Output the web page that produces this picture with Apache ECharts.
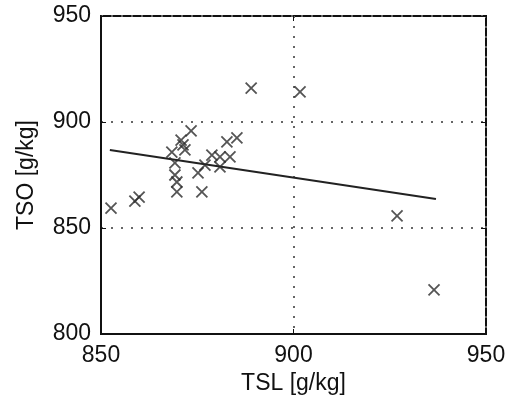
<!DOCTYPE html>
<html>
<head>
<meta charset="utf-8">
<script src="https://cdn.jsdelivr.net/npm/echarts@6/dist/echarts.min.js"></script>
<style>html,body{margin:0;padding:0;background:#fff;}#c{width:509px;height:406px;}</style>
</head>
<body>
<div id="c"></div>
<script>
// TSL [g/kg] values
var tsl = [852.6, 858.8, 859.9, 889.0, 901.7, 926.9, 936.5,
           873.4, 870.8, 871.8, 871.3, 868.4, 869.2, 869.2, 869.7, 869.7,
           875.2, 876.2, 878.8, 880.9, 883.5, 882.7, 885.3, 877.0, 880.9];
// TSO [g/kg] values
var tso = [859.4, 862.7, 864.6, 916.0, 914.2, 855.7, 820.8,
           895.8, 891.5, 886.8, 889.2, 885.8, 880.7, 875.0, 871.7, 867.0,
           876.0, 867.0, 884.4, 883.5, 883.5, 890.6, 892.5, 879.7, 878.8];
// regression line endpoints
var fitX = [852.3, 937.0];
var fitY = [886.8, 863.7];
var xTicks = [850, 900, 950];
var yTicks = [800, 850, 900, 950];

var pts = tsl.map(function (v, i) { return [v, tso[i]]; });
var fit = fitX.map(function (v, i) { return [v, fitY[i]]; });

var font = 'Liberation Sans, Arial, sans-serif';
var chart = echarts.init(document.getElementById('c'), null, {renderer: 'canvas'});
var dotted = {show: true, lineStyle: {color: '#666', width: 2, type: [2, 8]}};
chart.setOption({
  animation: false,
  backgroundColor: '#fff',
  grid: {left: 101, top: 16, right: 23, bottom: 72, show: true, borderColor: '#111', borderWidth: 2, backgroundColor: '#fff'},
  xAxis: [{
    type: 'value', min: xTicks[0], max: xTicks[xTicks.length - 1], interval: 50,
    name: 'TSL [g/kg]', nameLocation: 'middle', nameGap: 38,
    nameTextStyle: {fontFamily: font, fontSize: 23, color: '#111'},
    axisLine: {lineStyle: {color: '#111', width: 2}},
    axisTick: {show: true, inside: true, length: 5, lineStyle: {color: '#111'}},
    axisLabel: {fontFamily: font, fontSize: 23, color: '#111', margin: 10},
    splitLine: dotted
  }, {
    type: 'value', position: 'top', min: xTicks[0], max: xTicks[xTicks.length - 1], interval: 50,
    axisLine: {show: false}, axisLabel: {show: false}, splitLine: {show: false},
    axisTick: {show: true, inside: true, length: 5, lineStyle: {color: '#111'}}
  }],
  yAxis: [{
    type: 'value', min: yTicks[0], max: yTicks[yTicks.length - 1], interval: 50,
    name: 'TSO [g/kg]', nameLocation: 'middle', nameGap: 63,
    nameTextStyle: {fontFamily: font, fontSize: 23, color: '#111'},
    axisLine: {show: true, lineStyle: {color: '#111', width: 2}},
    axisTick: {show: true, inside: true, length: 5, lineStyle: {color: '#111'}},
    axisLabel: {fontFamily: font, fontSize: 23, color: '#111', margin: 10},
    splitLine: dotted
  }, {
    type: 'value', position: 'right', min: yTicks[0], max: yTicks[yTicks.length - 1], interval: 50,
    axisLine: {show: false}, axisLabel: {show: false}, splitLine: {show: false},
    axisTick: {show: true, inside: true, length: 5, lineStyle: {color: '#111'}}
  }],
  series: [{
    type: 'line', data: fit, symbol: 'none', z: 3,
    lineStyle: {color: '#222', width: 2}
  }, {
    type: 'scatter', data: pts, z: 4,
    symbol: 'path://M0,0L10,10M10,0L0,10', symbolSize: 11,
    itemStyle: {color: 'rgba(0,0,0,0)', borderColor: '#2a2a2a', borderWidth: 1.8}
  }]
});
</script>
</body>
</html>
